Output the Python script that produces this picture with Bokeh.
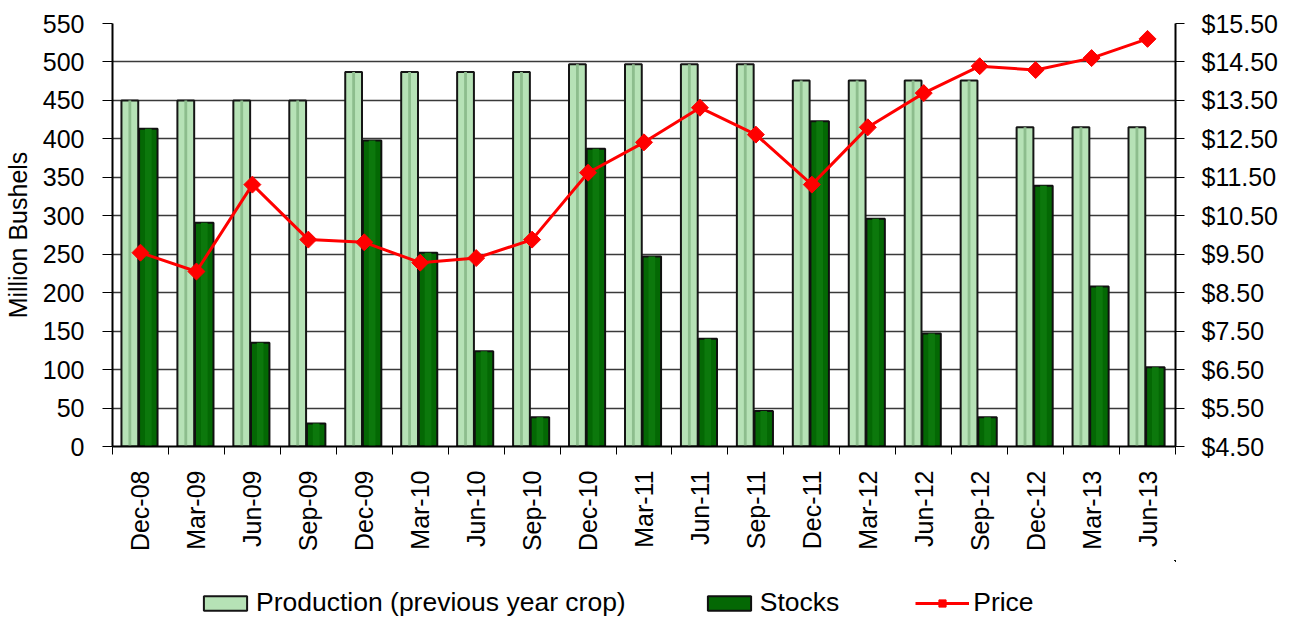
import numpy as np
from bokeh.plotting import figure
from bokeh.layouts import column
from bokeh.models import (Range1d, LinearAxis, FixedTicker, NumeralTickFormatter,
                          Legend, LegendItem, ColumnDataSource)
from bokeh.embed import file_html
from bokeh.resources import INLINE

dates = ["Dec-08", "Mar-09", "Jun-09", "Sep-09", "Dec-09", "Mar-10", "Jun-10", "Sep-10",
         "Dec-10", "Mar-11", "Jun-11", "Sep-11", "Dec-11", "Mar-12", "Jun-12", "Sep-12",
         "Dec-12", "Mar-13", "Jun-13"]
production = [450, 450, 450, 450, 487, 487, 487, 487, 497, 497, 497, 497,
              476, 476, 476, 476, 415, 415, 415]
stocks = [413, 291, 135, 30, 398, 252, 124, 38, 387, 247, 140, 46,
          423, 296, 147, 38, 339, 208, 103]
price = [9.54, 9.05, 11.31, 9.88, 9.81, 9.28, 9.40, 9.88, 11.62, 12.41, 13.31, 12.61,
         11.31, 12.80, 13.69, 14.39, 14.29, 14.60, 15.10]
left_ticks = [0, 50, 100, 150, 200, 250, 300, 350, 400, 450, 500, 550]
right_ticks = [4.5, 5.5, 6.5, 7.5, 8.5, 9.5, 10.5, 11.5, 12.5, 13.5, 14.5, 15.5]

FONT = "Liberation Sans"
n = len(dates)
centers = np.arange(n) + 0.5
bounds = list(np.arange(n + 1).astype(float))

src = ColumnDataSource(dict(
    x=centers,
    xp=centers - 0.19,
    xs=centers + 0.14,
    prod=production,
    stk=stocks,
    price=price,
))

PROD_STYLE = dict(fill_color="#b6e2b6", line_color="#151515", line_width=2)
STK_STYLE = dict(fill_color="#046804", line_color="#101010", line_width=2)
LINE_STYLE = dict(line_color="#ff0000", line_width=3)
PT_STYLE = dict(marker="square", angle=np.pi / 4, size=12,
                fill_color="#ff0000", line_color="#ff0000")

p = figure(width=1296, height=560, output_backend="svg", toolbar_location=None,
           x_range=Range1d(0, n), y_range=Range1d(0, 550),
           min_border_left=111, min_border_right=121, min_border_top=23,
           min_border_bottom=114)
p.extra_y_ranges = {"price": Range1d(4.5, 15.5)}
p.outline_line_color = None
p.background_fill_color = "white"
p.border_fill_color = "white"

# Production bars (light green, bevel look)
p.vbar(x="xp", top="prod", width=0.30, bottom=0, source=src, **PROD_STYLE)
p.vbar(x="xp", top="prod", width=0.05, bottom=0, source=src,
       fill_color="#8dbd8d", line_color=None)
# Stocks bars (dark green)
p.vbar(x="xs", top="stk", width=0.33, bottom=0, source=src, **STK_STYLE)
p.vbar(x="xs", top="stk", width=0.12, bottom=0, source=src,
       fill_color="#0c780c", line_color=None)

# Price line
p.line(x="x", y="price", source=src, y_range_name="price", **LINE_STYLE)
p.scatter(x="x", y="price", source=src, y_range_name="price", **PT_STYLE)

# Left axis
la = p.yaxis[0]
la.ticker = FixedTicker(ticks=left_ticks)
la.axis_label = "Million Bushels"
la.axis_label_text_font = FONT
la.axis_label_text_font_size = "25px"
la.axis_label_text_font_style = "normal"
la.axis_label_text_color = "black"
la.axis_label_standoff = 8
la.major_label_text_font = FONT
la.major_label_text_font_size = "25px"
la.major_label_text_color = "black"
la.major_tick_out = 10
la.major_tick_in = 0
la.minor_tick_out = 0
la.minor_tick_in = 0
la.major_label_standoff = 18
la.axis_line_width = 2
la.axis_line_color = "black"
la.major_tick_line_color = "black"

# Right axis
ra = LinearAxis(y_range_name="price", ticker=FixedTicker(ticks=right_ticks),
                formatter=NumeralTickFormatter(format="$0.00"))
ra.major_label_text_font = FONT
ra.major_label_text_font_size = "25px"
ra.major_label_text_color = "black"
ra.major_tick_out = 9
ra.major_tick_in = 0
ra.minor_tick_out = 0
ra.minor_tick_in = 0
ra.major_label_standoff = 17
ra.axis_line_width = 2
ra.axis_line_color = "black"
p.add_layout(ra, "right")

# Bottom axis
xa = p.xaxis[0]
xa.ticker = FixedTicker(ticks=list(centers), minor_ticks=bounds)
xa.major_label_overrides = {float(c): d for c, d in zip(centers, dates)}
xa.major_label_orientation = np.pi / 2
xa.major_label_text_font = FONT
xa.major_label_text_font_size = "25px"
xa.major_label_text_color = "black"
xa.major_tick_out = 0
xa.major_tick_in = 0
xa.minor_tick_out = 8
xa.minor_tick_in = 0
xa.minor_tick_line_color = "black"
xa.major_label_standoff = 16
xa.axis_line_width = 2
xa.axis_line_color = "black"

p.xgrid.visible = False
p.ygrid.ticker = FixedTicker(ticks=left_ticks)
p.ygrid.grid_line_color = "#3a3a3a"
p.ygrid.grid_line_width = 1.5

# Legend strip (separate figure; its glyphs lie outside its visible ranges)
lg = figure(width=1296, height=58, output_backend="svg", toolbar_location=None,
            x_range=Range1d(-10, -9), y_range=Range1d(-10, -9),
            x_axis_type=None, y_axis_type=None,
            min_border_left=0, min_border_right=0, min_border_top=0,
            min_border_bottom=0)
lg.outline_line_color = None
lg.grid.visible = False
r_prod = lg.vbar(x="xp", top="prod", width=0.30, bottom=0, source=src, **PROD_STYLE)
r_stk = lg.vbar(x="xs", top="stk", width=0.33, bottom=0, source=src, **STK_STYLE)
r_line = lg.line(x="x", y="price", source=src, **LINE_STYLE)
r_pts = lg.scatter(x="x", y="price", source=src, **PT_STYLE)

legend = Legend(items=[
    LegendItem(label="Production (previous year crop)", renderers=[r_prod]),
    LegendItem(label="Stocks", renderers=[r_stk]),
    LegendItem(label="Price", renderers=[r_line, r_pts]),
], orientation="horizontal", location=(86, 0))
legend.label_text_font = FONT
legend.label_text_font_size = "26.5px"
legend.label_text_color = "black"
legend.glyph_width = 54
legend.glyph_height = 18
legend.label_standoff = 4
legend.spacing = 76
legend.padding = 0
legend.margin = 0
legend.border_line_color = None
legend.background_fill_alpha = 0
lg.add_layout(legend, "center")

layout = column(p, lg)
open("out.html", "w").write(file_html(layout, INLINE))
